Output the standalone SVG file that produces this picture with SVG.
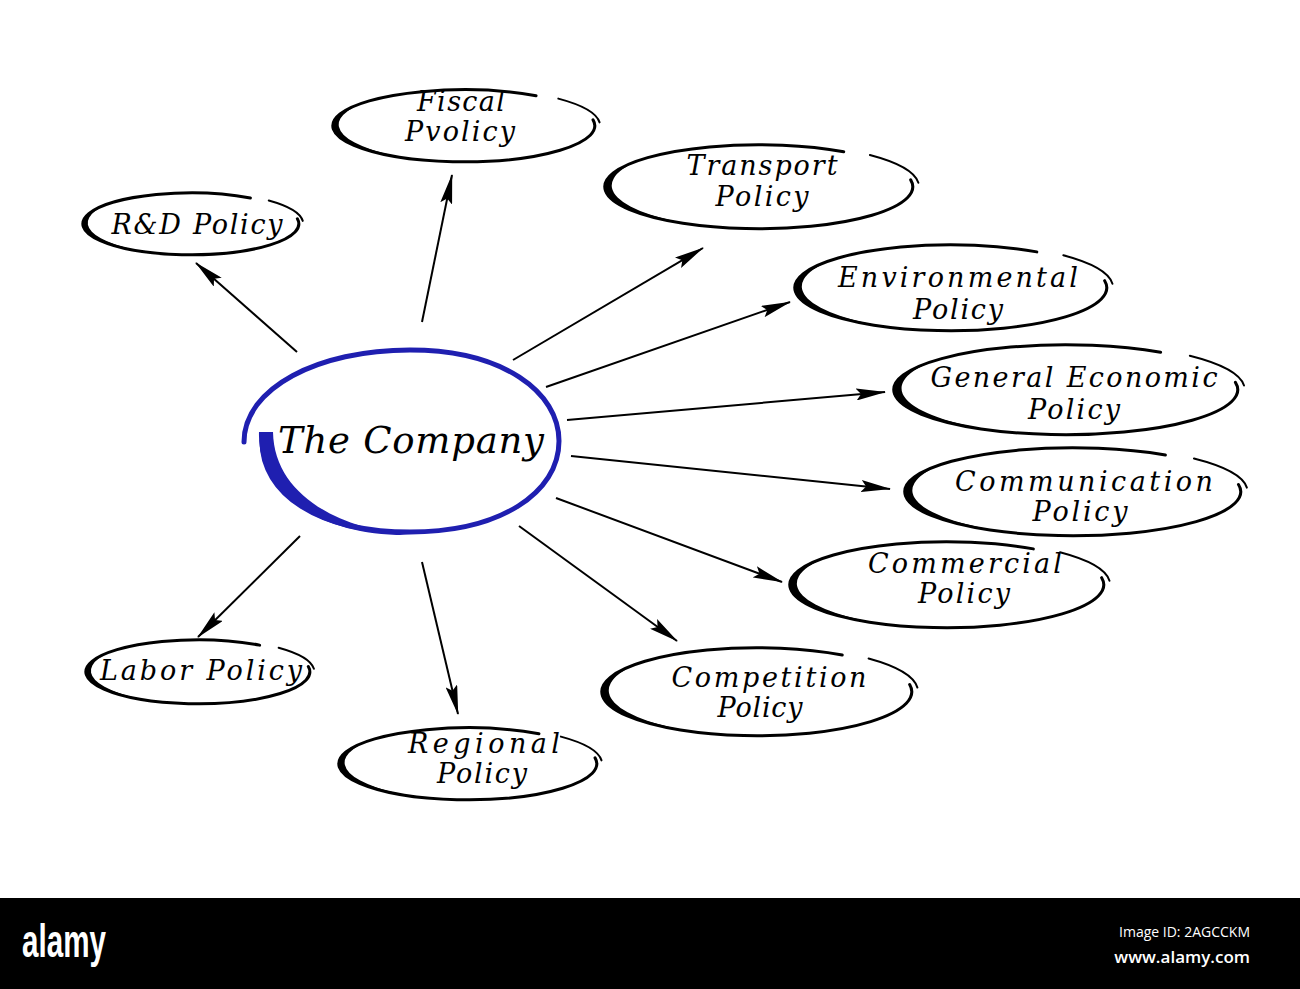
<svg xmlns="http://www.w3.org/2000/svg" width="1300" height="989" viewBox="0 0 1300 989">
<defs>
<style>
.lbl{font-family:"DejaVu Serif","Liberation Serif",serif;font-style:italic;font-size:27px;fill:#000;text-anchor:middle}
.ring{fill:none;stroke:#000;stroke-width:3;vector-effect:non-scaling-stroke;stroke-linecap:round}
.tail{fill:none;stroke:#000;stroke-width:2;vector-effect:non-scaling-stroke;stroke-linecap:round}
.cres{fill:#000}
.conn{stroke:#000;stroke-width:2;fill:none;marker-end:url(#ah)}
</style>
<marker id="ah" markerUnits="userSpaceOnUse" markerWidth="30" markerHeight="12" refX="29" refY="6" orient="auto">
<path d="M0,0 L30,6 L0,12 L5,6 Z" fill="#000"/>
</marker>
<g id="oval">
<path class="ring" d="M0.55,-0.84 A1,1 0 1 0 0.985,-0.17"/>
<path class="tail" d="M0.72,-0.76 A1.04,1.04 0 0 1 1.035,-0.1"/>
<path class="cres" d="M-0.78,-0.63 A1,1 0 0 0 -0.35,0.94 A1.12,1.1 0 0 1 -0.78,-0.63 Z"/>
</g>
</defs>
<rect width="1300" height="989" fill="#fff"/>

<g id="connectors">
<line class="conn" x1="297" y1="352" x2="196" y2="263"/>
<line class="conn" x1="422" y1="322" x2="452" y2="175"/>
<line class="conn" x1="513" y1="360" x2="703" y2="248"/>
<line class="conn" x1="546" y1="387" x2="790" y2="302"/>
<line class="conn" x1="567" y1="420" x2="885" y2="392"/>
<line class="conn" x1="571" y1="456" x2="890" y2="489"/>
<line class="conn" x1="556" y1="498" x2="782" y2="582"/>
<line class="conn" x1="519" y1="526" x2="677" y2="641"/>
<line class="conn" x1="422" y1="562" x2="458" y2="714"/>
<line class="conn" x1="300" y1="536" x2="198" y2="637"/>
</g>

<g id="company">
<path d="M244,442 C244,388 318,350 410,350 C503,350 559,392 559,441 C559,493 500,532 410,532 C318,532 262,494 262,441" fill="none" stroke="#1f1fb0" stroke-width="5" stroke-linecap="round"/>
<path d="M259,432 C257,494 322,537 410,535 C338,529 274,494 273,432 Z" fill="#1f1fb0"/>
<text x="411" y="453" font-family="DejaVu Serif, Liberation Serif, serif" font-style="italic" font-size="37" text-anchor="middle" textLength="266" lengthAdjust="spacing">The Company</text>
</g>

<g id="fiscal">
<use href="#oval" transform="translate(464,126) scale(131,36)"/>
<text class="lbl" x="461" y="111" textLength="88" lengthAdjust="spacing">Fiscal</text>
<text class="lbl" x="460" y="141" textLength="110" lengthAdjust="spacing">Pvolicy</text>
</g>

<g id="rd">
<use href="#oval" transform="translate(191,224) scale(108,31)"/>
<text class="lbl" x="197" y="234" textLength="171" lengthAdjust="spacing">R&amp;D Policy</text>
</g>

<g id="transport">
<use href="#oval" transform="translate(759,187) scale(154,42)"/>
<text class="lbl" x="762" y="175" textLength="151" lengthAdjust="spacing">Transport</text>
<text class="lbl" x="762" y="206" textLength="93" lengthAdjust="spacing">Policy</text>
</g>

<g id="environmental">
<use href="#oval" transform="translate(951,288) scale(156,43)"/>
<text class="lbl" x="958" y="287" textLength="240" lengthAdjust="spacing">Environmental</text>
<text class="lbl" x="958" y="319" textLength="90" lengthAdjust="spacing">Policy</text>
</g>

<g id="general-economic">
<use href="#oval" transform="translate(1066,390) scale(172,45)"/>
<text class="lbl" x="1074" y="387" textLength="287" lengthAdjust="spacing">General Economic</text>
<text class="lbl" x="1074" y="419" textLength="92" lengthAdjust="spacing">Policy</text>
</g>

<g id="communication">
<use href="#oval" transform="translate(1073,492) scale(168,44)"/>
<text class="lbl" x="1084" y="491" textLength="258" lengthAdjust="spacing">Communication</text>
<text class="lbl" x="1080" y="521" textLength="95" lengthAdjust="spacing">Policy</text>
</g>

<g id="commercial">
<use href="#oval" transform="translate(947,585) scale(157,43)"/>
<text class="lbl" x="965" y="573" textLength="194" lengthAdjust="spacing">Commercial</text>
<text class="lbl" x="964" y="603" textLength="92" lengthAdjust="spacing">Policy</text>
</g>

<g id="competition">
<use href="#oval" transform="translate(757,692) scale(155,44)"/>
<text class="lbl" x="769" y="687" textLength="195" lengthAdjust="spacing">Competition</text>
<text class="lbl" x="760" y="717" textLength="85" lengthAdjust="spacing">Policy</text>
</g>

<g id="regional">
<use href="#oval" transform="translate(468,764) scale(129,36)"/>
<text class="lbl" x="484" y="753" textLength="152" lengthAdjust="spacing">Regional</text>
<text class="lbl" x="482" y="783" textLength="90" lengthAdjust="spacing">Policy</text>
</g>

<g id="labor">
<use href="#oval" transform="translate(198,672) scale(112,32)"/>
<text class="lbl" x="201" y="680" textLength="202" lengthAdjust="spacing">Labor Policy</text>
</g>

<g id="watermark">
<rect x="0" y="898" width="1300" height="91" fill="#000"/>
<text x="22" y="957" font-family="Liberation Sans, sans-serif" font-weight="bold" font-size="46" fill="#fff" textLength="84" lengthAdjust="spacingAndGlyphs">alamy</text>
<text x="1250" y="937" font-family="Open Sans, sans-serif" font-size="14" fill="#fff" text-anchor="end">Image ID: 2AGCCKM</text>
<text x="1250" y="963" font-family="Open Sans, sans-serif" font-size="17" font-weight="600" fill="#fff" text-anchor="end">www.alamy.com</text>
</g>
</svg>
